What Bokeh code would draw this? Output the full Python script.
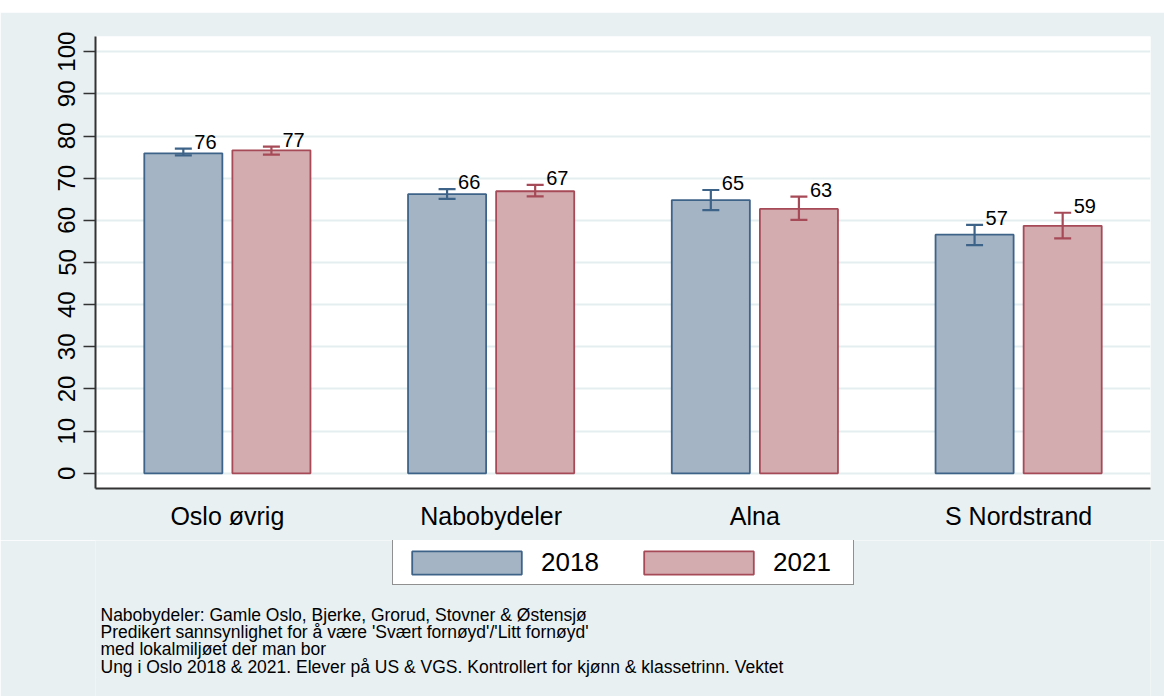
from bokeh.plotting import figure
from bokeh.layouts import column
from bokeh.models import (ColumnDataSource, Range1d, FixedTicker, Whisker, TeeHead,
                          Legend, LegendItem, Label)
from bokeh.transform import dodge
from bokeh.core.properties import value
from bokeh.embed import file_html
from bokeh.resources import INLINE

categories = ["Oslo øvrig", "Nabobydeler", "Alna", "S Nordstrand"]
years = ["2018", "2021"]
vals_2018 = [75.9, 66.2, 64.8, 56.6]
lo_2018 = [75.4, 65.1, 62.4, 54.1]
hi_2018 = [77.0, 67.4, 67.2, 58.9]
vals_2021 = [76.6, 66.9, 62.7, 58.7]
lo_2021 = [75.6, 65.7, 60.1, 55.7]
hi_2021 = [77.5, 68.4, 65.6, 61.8]
y_ticks = [0, 10, 20, 30, 40, 50, 60, 70, 80, 90, 100]
footnotes = [
    "Nabobydeler: Gamle Oslo, Bjerke, Grorud, Stovner & Østensjø",
    "Predikert sannsynlighet for å være 'Svært fornøyd'/'Litt fornøyd'",
    "med lokalmiljøet der man bor",
    "Ung i Oslo 2018 & 2021. Elever på US & VGS. Kontrollert for kjønn & klassetrinn. Vektet",
]

FONT = "Liberation Sans"
BG = "#E9F0F2"
fill_c = {"2018": "#A4B4C4", "2021": "#D3ACB0"}
edge_c = {"2018": "#3E6389", "2021": "#A64A57"}

idx = list(range(len(categories)))
src18 = ColumnDataSource(dict(x=idx, v=vals_2018, lo=lo_2018, hi=hi_2018,
                              lab=[str(int(round(v))) for v in vals_2018]))
src21 = ColumnDataSource(dict(x=idx, v=vals_2021, lo=lo_2021, hi=hi_2021,
                              lab=[str(int(round(v))) for v in vals_2021]))

# thin white band at the top (cut-off title area of the original)
top = figure(width=1164, height=12, output_backend="svg", toolbar_location=None,
             x_axis_type=None, y_axis_type=None, min_border=0)
top.border_fill_color = "white"
top.background_fill_color = "white"
top.outline_line_color = None
top.grid.visible = False

p = figure(width=1164, height=528, output_backend="svg", toolbar_location=None,
           x_range=Range1d(-0.5, 3.5), y_range=Range1d(-3.6, 103.6),
           min_border_left=95, min_border_right=14, min_border_top=24, min_border_bottom=52)
p.border_fill_color = BG
p.background_fill_color = "white"
p.outline_line_color = None

off = 0.167
bw = 0.296
for yr, src, o in (("2018", src18, -off), ("2021", src21, off)):
    p.vbar(x=dodge("x", o, range=p.x_range), top="v", bottom=0, width=bw, source=src,
           fill_color=fill_c[yr], line_color=edge_c[yr], line_width=1.8)
    w = Whisker(source=src, base=dodge("x", o, range=p.x_range), upper="hi", lower="lo",
                line_color=edge_c[yr], line_width=2.2, level="overlay",
                upper_head=TeeHead(size=17, line_color=edge_c[yr], line_width=2.2),
                lower_head=TeeHead(size=17, line_color=edge_c[yr], line_width=2.2))
    p.add_layout(w)
    p.text(x=dodge("x", o, range=p.x_range), y="hi", text="lab", source=src,
           x_offset=11, y_offset=-7, text_baseline="alphabetic", text_align="left",
           text_font=value(FONT), text_font_size="20px", text_color="black")

xa = p.xaxis[0]
xa.ticker = FixedTicker(ticks=idx)
xa.major_label_overrides = {i: c for i, c in enumerate(categories)}
xa.major_tick_line_color = None
xa.major_tick_out = 0
xa.major_tick_in = 0
xa.minor_tick_line_color = None
xa.major_label_standoff = 13
xa.major_label_text_font = FONT
xa.major_label_text_font_size = "25px"
xa.major_label_text_color = "black"
xa.axis_line_color = "#333333"
xa.axis_line_width = 2

ya = p.yaxis[0]
ya.ticker = FixedTicker(ticks=y_ticks)
ya.major_label_orientation = "vertical"
ya.major_tick_out = 12
ya.major_tick_in = 0
ya.major_tick_line_color = "#333333"
ya.major_tick_line_width = 1.5
ya.minor_tick_line_color = None
ya.major_label_standoff = 8
ya.major_label_text_font = FONT
ya.major_label_text_font_size = "24px"
ya.major_label_text_color = "black"
ya.axis_line_color = "#333333"
ya.axis_line_width = 2

p.xgrid.grid_line_color = None
p.ygrid.ticker = FixedTicker(ticks=y_ticks)
p.ygrid.grid_line_color = "#E4EDF0"
p.ygrid.grid_line_width = 2

# lower panel: legend and notes (its frame is aligned with the chart frame at x=95)
bot = figure(width=1164, height=156, output_backend="svg", toolbar_location=None,
             x_axis_type=None, y_axis_type=None, min_border=0,
             x_range=Range1d(0, 1), y_range=Range1d(0, 1))
bot.border_fill_color = BG
bot.background_fill_color = BG
bot.outline_line_color = None
bot.grid.visible = False

# legend-only proxies (no drawable data)
nan = float("nan")
proxy = {}
for yr in years:
    proxy[yr] = bot.vbar(x=[nan], top=[nan], bottom=[nan], width=0.1, fill_color=fill_c[yr],
                         line_color=edge_c[yr], line_width=1.8)

legend = Legend(items=[LegendItem(label=yr, renderers=[proxy[yr]]) for yr in years],
                location=(297, 111), orientation="horizontal",
                glyph_width=137, glyph_height=29, label_standoff=6, spacing=14,
                label_width=75, label_height=34, padding=5, margin=0,
                label_text_font=FONT, label_text_font_size="26px", label_text_color="black",
                border_line_color="#222222", border_line_width=1.5,
                background_fill_color="white", background_fill_alpha=1)
bot.add_layout(legend, "center")

baselines = [82, 65, 48, 30]
for t, yb in zip(footnotes, baselines):
    bot.add_layout(Label(x=5, y=yb, x_units="screen", y_units="screen", text=t,
                         text_font=FONT, text_font_size="17.5px", text_color="black",
                         text_baseline="alphabetic"))

layout = column(top, p, bot, spacing=0)
open("out.html", "w").write(file_html(layout, INLINE))
